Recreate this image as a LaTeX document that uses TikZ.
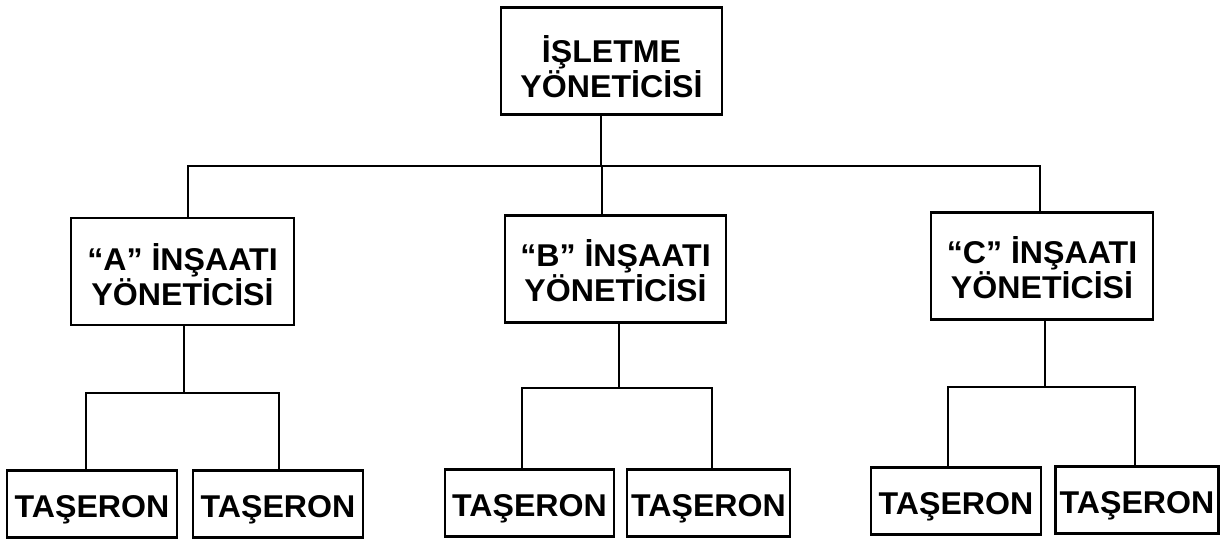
\documentclass[tikz,border=0pt]{standalone}
\usepackage{fontspec}
\setmainfont{Liberation Sans}[FakeStretch=1.02]
\begin{document}
\begin{tikzpicture}[x=1pt,y=-1pt,
  box/.style={draw, line width=2.8pt, inner sep=0pt, align=center,
    font=\fontsize{31.5}{33}\selectfont\bfseries},
  mgr/.style={box, minimum height=107pt, text depth=0pt},
  sub/.style={box, minimum height=67pt, text height=26pt, text depth=0pt},
  conn/.style={line width=2.8pt}]
\useasboundingbox (0,0) rectangle (1221,540);
% boxes
\node[mgr, minimum width=221pt, text height=73pt] (top) at (611.5,61) {İŞLETME\\YÖNETİCİSİ};
\node[mgr, minimum width=223pt, text height=68pt] (A) at (182.5,271.5) {“A” İNŞAATI\\YÖNETİCİSİ};
\node[mgr, minimum width=221pt, text height=65pt] (B) at (615.5,269) {“B” İNŞAATI\\YÖNETİCİSİ};
\node[mgr, minimum width=222pt, text height=65pt] (C) at (1042,266) {“C” İNŞAATI\\YÖNETİCİSİ};
\node[sub, minimum width=170pt] (t1) at (92,504) {TAŞERON};
\node[sub, minimum width=170pt] (t2) at (278,504) {TAŞERON};
\node[sub, minimum width=169pt] (t3) at (529.5,503) {TAŞERON};
\node[sub, minimum width=163pt] (t4) at (708.5,503) {TAŞERON};
\node[sub, minimum width=170pt] (t5) at (956,501) {TAŞERON};
\node[sub, minimum width=163pt] (t6) at (1137,500) {TAŞERON};
% junction coordinates
\coordinate (j0) at (601,166);
\coordinate (jA) at (188,166);
\coordinate (jB) at (602,166);
\coordinate (jC) at (1040,166);
\coordinate (kA) at (184,393);
\coordinate (kA1) at (86,393);
\coordinate (kA2) at (279,393);
\coordinate (kB) at (619,388);
\coordinate (kB1) at (522,388);
\coordinate (kB2) at (712,388);
\coordinate (kC) at (1045,387);
\coordinate (kC1) at (948,387);
\coordinate (kC2) at (1135,387);
% connectors
\draw[conn] (top.south -| j0) -- (j0);
\draw[conn] (A.north -| jA) -- (jA) -- (jC) -- (C.north -| jC);
\draw[conn] (jB) -- (B.north -| jB);
\draw[conn] (A.south -| kA) -- (kA);
\draw[conn] (t1.north -| kA1) -- (kA1) -- (kA2) -- (t2.north -| kA2);
\draw[conn] (B.south -| kB) -- (kB);
\draw[conn] (t3.north -| kB1) -- (kB1) -- (kB2) -- (t4.north -| kB2);
\draw[conn] (C.south -| kC) -- (kC);
\draw[conn] (t5.north -| kC1) -- (kC1) -- (kC2) -- (t6.north -| kC2);
\end{tikzpicture}
\end{document}
